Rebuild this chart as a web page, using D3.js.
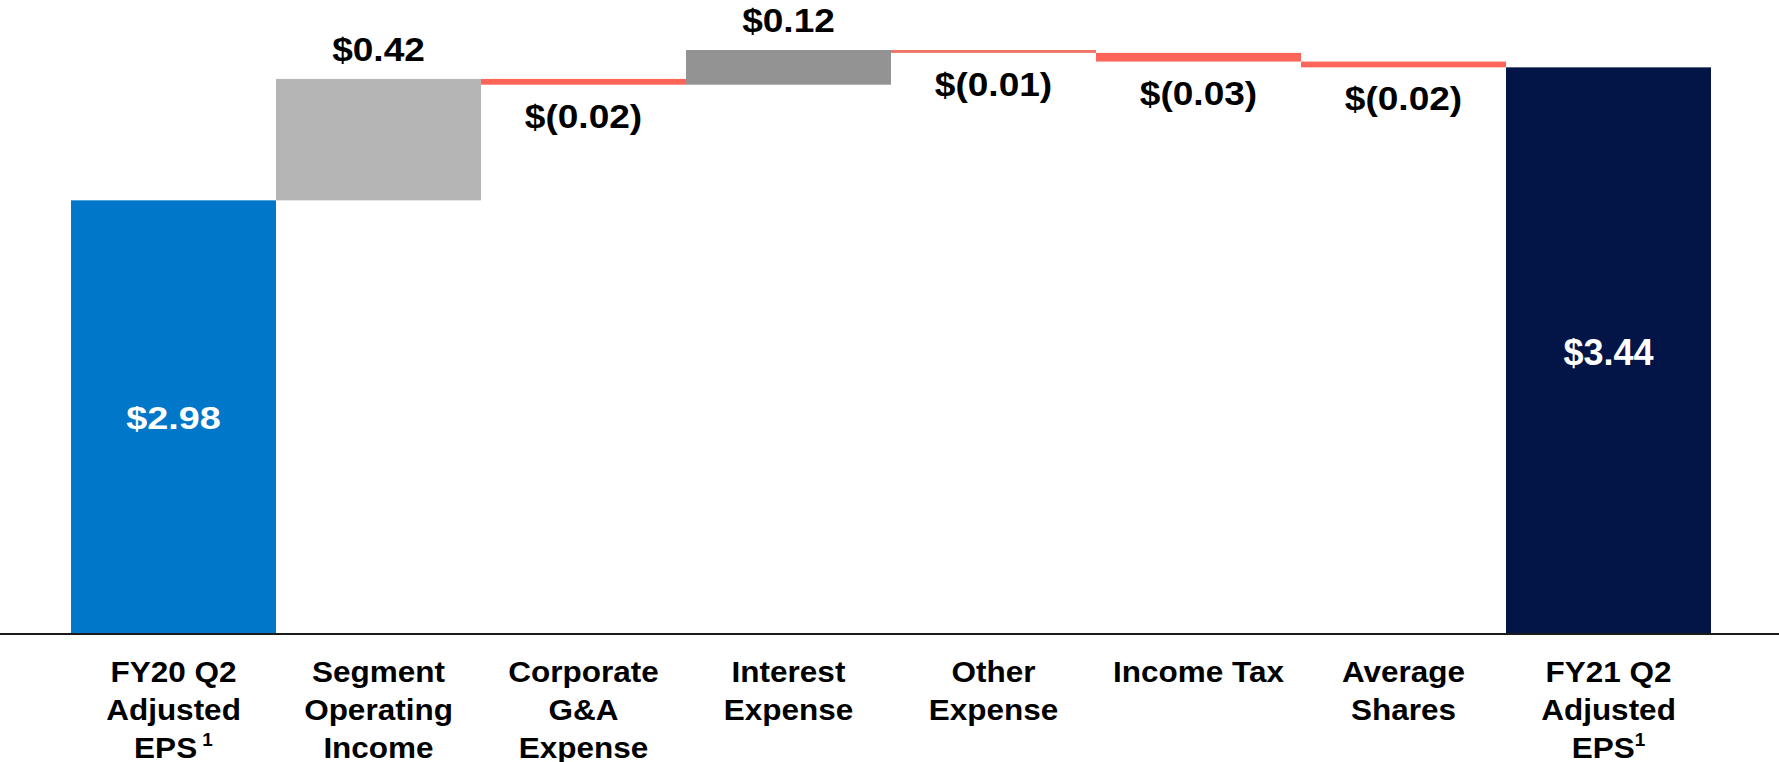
<!DOCTYPE html>
<html>
<head>
<meta charset="utf-8">
<script src="https://cdn.jsdelivr.net/npm/d3@7"></script>
<style>
  html, body { margin: 0; padding: 0; background: #fff; }
  text { font-family: Arial, "Liberation Sans", Helvetica, sans-serif; font-weight: bold; }
</style>
</head>
<body>
<div id="chart"></div>
<script>
/* globals d3 */

let categories = ['FY20 Q2 Adjusted EPS', 'Segment Operating Income', 'Corporate G&A Expense',
  'Interest Expense', 'Other Expense', 'Income Tax', 'Average Shares', 'FY21 Q2 Adjusted EPS']
let labelLines = [
  ['FY20 Q2', 'Adjusted', 'EPS'],
  ['Segment', 'Operating', 'Income'],
  ['Corporate', 'G&A', 'Expense'],
  ['Interest', 'Expense'],
  ['Other', 'Expense'],
  ['Income Tax'],
  ['Average', 'Shares'],
  ['FY21 Q2', 'Adjusted', 'EPS']
]
let footnotes = [' 1', '', '', '', '', '', '', '1']
let values = [2.98, 0.42, -0.02, 0.12, -0.01, -0.03, -0.02, 3.44]
let kinds = ['total', 'step', 'step', 'step', 'step', 'step', 'step', 'total']

let width = 1779
let height = 762
let baseY = 634

let color = d3.scaleOrdinal()
    .domain(categories)
    .range(['#0077c8', '#b5b5b5', '#ff6459', '#939393', '#f07468', '#ff6459', '#ff6459', '#021546'])

// the two total labels were not set the same way in the original slide
let totalFont = { 0: 31, 7: 36 }
let totalStretch = { 0: 1.22, 7: 1.0 }

// running totals for the waterfall
let bars = []
let run = 0
values.forEach(function (v, i) {
  let start, end
  if (kinds[i] === 'total') {
    start = null
    end = v
    run = v
  } else {
    start = run
    end = run + v
    run = end
  }
  bars.push({ name: categories[i], value: v, kind: kinds[i], start: start, end: end, i: i })
})

function money (v) {
  let s = d3.format('.2f')(Math.abs(v))
  return v < 0 ? '$(' + s + ')' : '$' + s
}

let x = d3.scaleBand().domain(categories).range([71, 1711]).padding(0)
let y = d3.scaleLinear().domain([1.48, 3.5]).range([baseY, 50])
let cx = (d) => x(d.name) + x.bandwidth() / 2

let svg = d3.select('#chart').append('svg').attr('width', width).attr('height', height)

svg.append('g').selectAll('rect')
    .data(bars)
    .enter().append('rect')
      .attr('x', (d) => x(d.name))
      .attr('width', x.bandwidth())
      .attr('y', (d) => d.kind === 'total' ? y(d.end) : y(Math.max(d.start, d.end)))
      .attr('height', function (d) {
        if (d.kind === 'total') return y.range()[0] - y(d.end)
        return Math.abs(y(d.start) - y(d.end))
      })
      .attr('fill', (d) => color(d.name))

// baseline
svg.append('line')
    .attr('x1', 0).attr('x2', width)
    .attr('y1', baseY).attr('y2', baseY)
    .attr('stroke', '#1a1a1a')
    .attr('stroke-width', 2)

// value labels
svg.append('g').selectAll('text')
    .data(bars)
    .enter().append('text')
      .attr('text-anchor', 'middle')
      .attr('transform', function (d) {
        let ty
        let sx = 1.09
        if (d.kind === 'total') {
          ty = (y(d.end) + baseY) / 2 + totalFont[d.i] * 0.36 + 1
          sx = totalStretch[d.i]
        } else if (d.value >= 0) ty = y(d.end) - 18
        else ty = y(d.end) + 43
        return 'translate(' + cx(d) + ',' + ty + ') scale(' + sx + ',1)'
      })
      .attr('fill', (d) => d.kind === 'total' ? '#fff' : '#000')
      .style('font-size', (d) => d.kind === 'total' ? totalFont[d.i] + 'px' : '34px')
      .text((d) => money(d.value))

// category labels
let lab = svg.append('g').selectAll('text')
    .data(bars)
    .enter().append('text')
      .attr('text-anchor', 'middle')
      .attr('transform', (d) => 'translate(' + cx(d) + ',682) scale(1.05,1)')
      .style('font-size', '30px')
      .attr('fill', '#000')

lab.each(function (d) {
  let t = d3.select(this)
  let lines = labelLines[d.i]
  lines.forEach(function (l, k) {
    let ts = t.append('tspan')
        .attr('x', 0)
        .attr('y', k * 38)
        .text(l)
    if (k === lines.length - 1 && footnotes[d.i]) {
      ts.append('tspan')
          .attr('dy', -12)
          .style('font-size', '18px')
          .text(footnotes[d.i])
    }
  })
})
</script>
</body>
</html>
